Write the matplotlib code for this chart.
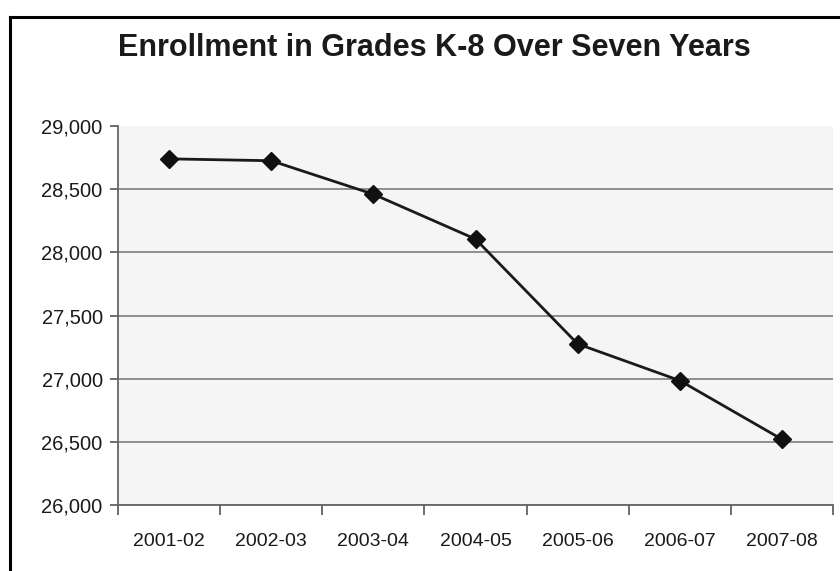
#!/usr/bin/env python3
"""Enrollment in grades K-8 line chart."""

import matplotlib

matplotlib.use("Agg")
import matplotlib.pyplot as plt
from matplotlib.lines import Line2D
from matplotlib.ticker import FuncFormatter

plt.rcParams["font.family"] = ["Liberation Sans", "DejaVu Sans"]

YEARS = ["2001-02", "2002-03", "2003-04", "2004-05", "2005-06", "2006-07", "2007-08"]
ENROLLMENT = [28740, 28725, 28460, 28105, 27275, 26985, 26520]
Y_TICKS = [26000, 26500, 27000, 27500, 28000, 28500, 29000]

W, H = 840, 571

fig = plt.figure(figsize=(W / 100, H / 100), dpi=100)
fig.patch.set_facecolor("white")

ax = fig.add_axes([118 / W, 1 - 505 / H, (833 - 118) / W, (505 - 126) / H])
ax.set_facecolor("#f5f5f5")

x = list(range(len(YEARS)))
ax.plot(x, ENROLLMENT, color="#1a1a1a", linewidth=2.0, marker="D",
        markersize=9.5, markerfacecolor="#111111", markeredgecolor="#111111",
        zorder=3)

ax.set_xlim(-0.5, len(YEARS) - 0.5)
ax.set_ylim(26000, 29000)
ax.set_yticks(Y_TICKS)
ax.yaxis.set_major_formatter(FuncFormatter(lambda v, _: f"{int(v):,}"))
ax.set_xticks([i - 0.5 for i in range(len(YEARS) + 1)])
ax.set_xticklabels([])
ax.set_xticks(x, minor=True)
ax.set_xticklabels(YEARS, minor=True, fontsize=14, color="#1a1a1a")
ax.tick_params(axis="x", which="minor", length=0, pad=20)
ax.tick_params(axis="x", which="major", length=7, width=1.2, color="#555555",
               direction="out")
ax.tick_params(axis="y", length=6, width=1.2, color="#555555", pad=5,
               labelsize=14.5, labelcolor="#1a1a1a")

ax.grid(axis="y", color="#8f8f8f", linewidth=1.4)
ax.set_axisbelow(True)
# no dark gridline along the top edge of the plot area
ax.get_ygridlines()[-1].set_visible(False)

for side in ("top", "right"):
    ax.spines[side].set_visible(False)
ax.spines["left"].set_color("#666666")
ax.spines["left"].set_linewidth(1.3)
ax.spines["bottom"].set_color("#666666")
ax.spines["bottom"].set_linewidth(1.3)

fig.text(434 / W, 1 - 48 / H, "Enrollment in Grades K-8 Over Seven Years",
         ha="center", va="center", fontsize=22, fontweight="bold",
         color="#1a1a1a")

# outer chart border (left and top edges visible in the scan)
fig.add_artist(Line2D([10 / W, 10 / W], [0, 1 - 17 / H], color="black",
                      linewidth=2.2, transform=fig.transFigure))
fig.add_artist(Line2D([10 / W, 1], [1 - 17 / H, 1 - 17 / H], color="black",
                      linewidth=2.2, transform=fig.transFigure))

fig.savefig("out.png", dpi=100)
